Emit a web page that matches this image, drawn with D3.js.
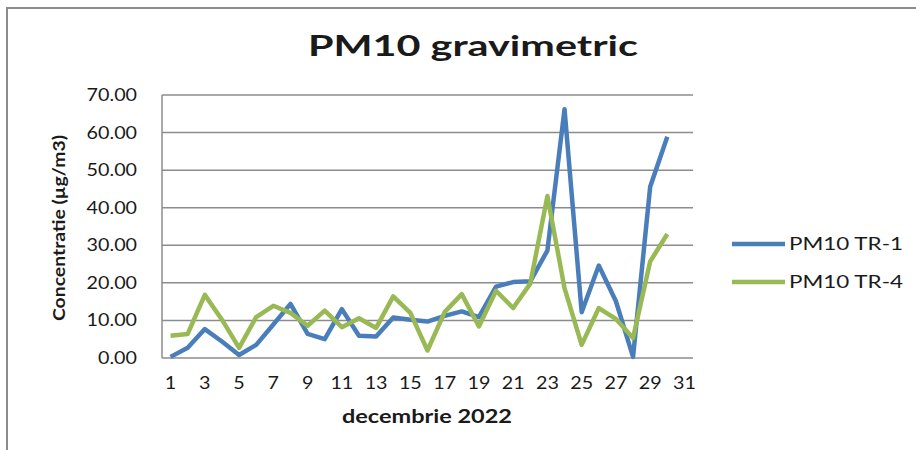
<!DOCTYPE html>
<html>
<head>
<meta charset="utf-8">
<script src="https://cdn.jsdelivr.net/npm/d3@7"></script>
<style>
  body { margin: 0; background: #fff; }
  text { font-family: Lato, "Open Sans", sans-serif; fill: #1a1a1a; }
</style>
</head>
<body>
<svg id="chart" width="916" height="450"></svg>
<script>
// days of december 2022 (31 categories, data until the 30th)
var days = d3.range(1, 32);
var seriesNames = ["PM10 TR-1", "PM10 TR-4"];
var tr1 = [0.3, 2.7, 7.7, 4.4, 0.8, 3.5, 8.9, 14.4, 6.4, 5.0, 13.0, 5.9, 5.7, 10.8, 10.2,
           9.7, 11.2, 12.4, 10.9, 19.0, 20.2, 20.4, 28.6, 66.2, 12.2, 24.6, 15.1, 0.3, 45.6, 58.9];
var tr4 = [5.9, 6.4, 16.8, 10.2, 2.7, 10.9, 13.9, 12.0, 8.6, 12.6, 8.2, 10.6, 8.0, 16.4, 12.0,
           2.0, 12.2, 17.0, 8.4, 17.9, 13.3, 19.8, 43.1, 18.6, 3.5, 13.3, 10.4, 5.3, 25.7, 33.0];
var yTicks = [0, 10, 20, 30, 40, 50, 60, 70];
var colors = ["#4a7ebb", "#98b954"];

var margin = {left: 162, top: 95, right: 223, bottom: 92};
var width = 916 - margin.left - margin.right;
var height = 450 - margin.top - margin.bottom;

var svg = d3.select("#chart");

// the original text is drawn wide, so stretch glyphs a bit
function stretch(sel, k) {
  sel.each(function() {
    var w = this.getComputedTextLength();
    d3.select(this).attr("textLength", w * k).attr("lengthAdjust", "spacingAndGlyphs");
  });
}

// outer chart border
svg.append("rect")
    .attr("x", 7).attr("y", 8)
    .attr("width", 930).attr("height", 460)
    .attr("fill", "none").attr("stroke", "#8c8c8c").attr("stroke-width", 2);

svg.append("text")
    .attr("x", 473).attr("y", 56)
    .attr("text-anchor", "middle")
    .style("font-size", "28px").style("font-weight", "bold")
    .attr("textLength", 330).attr("lengthAdjust", "spacingAndGlyphs")
    .text("PM10 gravimetric");

var g = svg.append("g").attr("transform", "translate(" + margin.left + "," + margin.top + ")");

var x = d3.scaleBand().domain(days).range([0, width]);
var y = d3.scaleLinear().domain([0, 70]).range([height, 0]);

// gridlines
g.append("g").selectAll("line").data(yTicks).join("line")
    .attr("x1", 0).attr("x2", width)
    .attr("y1", d => y(d)).attr("y2", d => y(d))
    .attr("stroke", "#8c8c8c").attr("stroke-width", 1.5);

g.append("line").attr("x1", 0).attr("x2", 0).attr("y1", 0).attr("y2", height)
    .attr("stroke", "#8c8c8c").attr("stroke-width", 1.5);

var yAxis = g.append("g")
    .call(d3.axisLeft(y).tickValues(yTicks).tickFormat(d3.format(".2f")).tickSize(0).tickPadding(25));
yAxis.select(".domain").remove();
yAxis.selectAll("text").style("font-size", "17px").style("font-family", "Lato, sans-serif").attr("fill", "#1a1a1a")
    .call(stretch, 1.16);

var xAxis = g.append("g").attr("transform", "translate(0," + height + ")")
    .call(d3.axisBottom(x).tickValues(days.filter(d => d % 2 === 1)).tickSize(0).tickPadding(19));
xAxis.select(".domain").remove();
xAxis.selectAll("text").style("font-size", "17px").style("font-family", "Lato, sans-serif").attr("fill", "#1a1a1a")
    .call(stretch, 1.16);

svg.append("text")
    .attr("transform", "translate(65,228) rotate(-90)")
    .attr("text-anchor", "middle")
    .style("font-size", "17px").style("font-weight", "bold")
    .attr("textLength", 186).attr("lengthAdjust", "spacingAndGlyphs")
    .text("Concentratie (µg/m3)");

svg.append("text")
    .attr("x", 427).attr("y", 423)
    .attr("text-anchor", "middle")
    .style("font-size", "18px").style("font-weight", "bold")
    .attr("textLength", 170).attr("lengthAdjust", "spacingAndGlyphs")
    .text("decembrie 2022");

var line = d3.line()
    .x((d, i) => x(days[i]) + x.bandwidth() / 2)
    .y(d => y(d));

[tr1, tr4].forEach(function(s, k) {
  g.append("path").datum(s)
      .attr("fill", "none")
      .attr("stroke", colors[k])
      .attr("stroke-width", 4.5)
      .attr("stroke-linejoin", "round")
      .attr("d", line);
});

var legend = svg.append("g").selectAll("g").data(seriesNames).join("g")
    .attr("transform", (d, i) => "translate(732," + (244 + i * 38) + ")");
legend.append("line").attr("x1", 0).attr("x2", 53)
    .attr("stroke", (d, i) => colors[i]).attr("stroke-width", 4.5);
legend.append("text").attr("x", 57).attr("y", 6)
    .style("font-size", "17px")
    .attr("textLength", 114).attr("lengthAdjust", "spacingAndGlyphs")
    .text(d => d);
</script>
</body>
</html>
